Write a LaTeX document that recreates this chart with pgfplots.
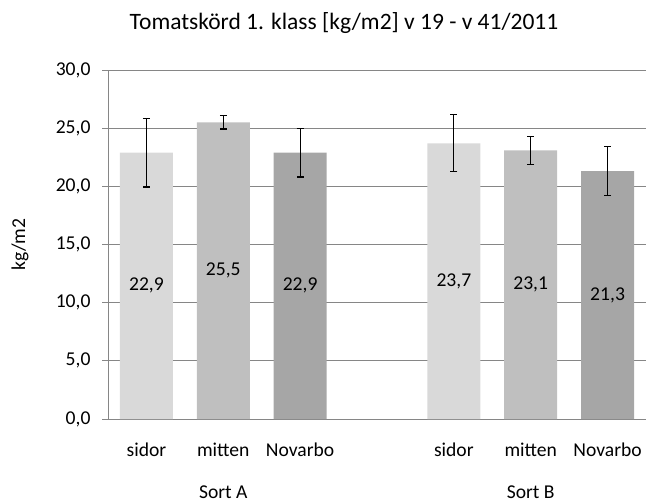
\documentclass[border=0pt]{standalone}
\usepackage{pgfplots}
\pgfplotsset{compat=1.18}
\usepackage{pgfplotstable}
\usepackage{fontspec}
\setmainfont{Carlito}
\definecolor{cA}{HTML}{D9D9D9}
\definecolor{cB}{HTML}{BFBFBF}
\definecolor{cC}{HTML}{A6A6A6}
\definecolor{gridc}{HTML}{868686}

\pgfplotstableread{
x y err
0 22.9 2.95
4 23.7 2.44
}\sidor
\pgfplotstableread{
x y err
1 25.5 0.57
5 23.1 1.20
}\mitten
\pgfplotstableread{
x y err
2 22.9 2.10
6 21.3 2.10
}\novarbo

\pgfplotsset{lbl/.style={draw=none, mark=none, point meta=explicit,
  nodes near coords={\pgfmathprintnumber[fixed,fixed zerofill,precision=1,use comma]{\pgfplotspointmeta}},
  every node near coord/.append style={anchor=center, font=\fontsize{19.6bp}{23bp}\selectfont, black}}}

\begin{document}
\begin{tikzpicture}
\begin{axis}[
  scale only axis, width=538bp, height=349bp,
  xmin=-0.5, xmax=6.5, ymin=0, ymax=30,
  clip=false,
  /pgf/number format/assume math mode=true,
  /pgf/bar width=0.69, /pgf/bar shift=0pt,
  ytick={0,5,...,30},
  yticklabel style={xshift=-8bp, /pgf/number format/fixed, /pgf/number format/fixed zerofill, /pgf/number format/precision=1, /pgf/number format/use comma},
  xtick={0,1,2,4,5,6},
  xticklabels={sidor,mitten,Novarbo,sidor,mitten,Novarbo},
  xticklabel style={anchor=base, yshift=-31bp},
  extra x ticks={1,5},
  extra x tick labels={Sort A,Sort B},
  extra x tick style={grid=none, major tick length=0pt, xticklabel style={yshift=-48bp}},
  xtick style={draw=none},
  ytick style={gridc, line width=0.9bp},
  tick align=outside, major tick length=6bp,
  tick label style={font=\fontsize{19.6bp}{23bp}\selectfont, black},
  ymajorgrids, grid style={gridc, line width=0.9bp},
  axis x line*=bottom, axis y line*=left,
  axis line style={gridc, line width=0.9bp, -},
  ylabel={kg/m2},
  ylabel style={at={(axis description cs:-0.1636,0.5)}, anchor=center, font=\fontsize{19.6bp}{23bp}\selectfont},
  title={Tomatskörd 1. klass [kg/m2] v 19 - v 41/2011},
  title style={at={(axis description cs:0.5,1)}, anchor=base, xshift=-33bp, yshift=35bp, font=\fontsize{23.5bp}{28bp}\selectfont},
  error bars/error bar style={black, line width=1.2bp},
  error bars/error mark options={black, rotate=90, mark size=3.5bp, line width=1.2bp},
]
\addplot[ybar, fill=cA, draw=none, error bars/.cd, y dir=both, y explicit] table[x=x, y=y, y error=err] {\sidor};
\addplot[ybar, fill=cB, draw=none, error bars/.cd, y dir=both, y explicit] table[x=x, y=y, y error=err] {\mitten};
\addplot[ybar, fill=cC, draw=none, error bars/.cd, y dir=both, y explicit] table[x=x, y=y, y error=err] {\novarbo};
\addplot[lbl] table[x=x, y expr=\thisrow{y}/2, meta=y] {\sidor};
\addplot[lbl] table[x=x, y expr=\thisrow{y}/2, meta=y] {\mitten};
\addplot[lbl] table[x=x, y expr=\thisrow{y}/2, meta=y] {\novarbo};
\path ([xshift=-108bp,yshift=-79bp]rel axis cs:0,0) rectangle ([xshift=1bp,yshift=70bp]rel axis cs:1,1);
\end{axis}
\end{tikzpicture}
\end{document}
